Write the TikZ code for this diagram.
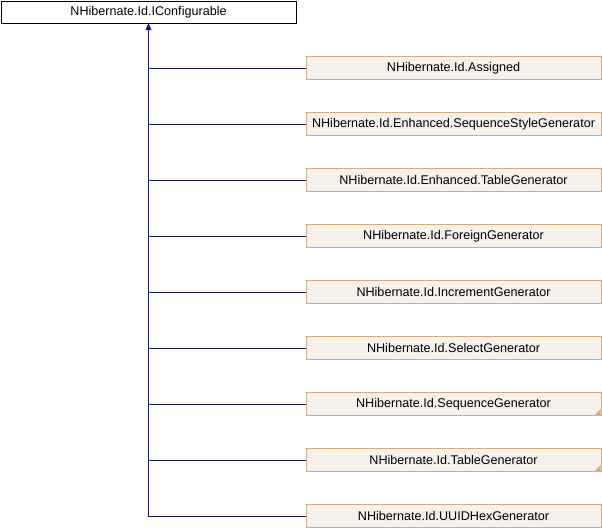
\documentclass[tikz,border=0pt]{standalone}
\usepackage{fontspec}
\setmainfont{Liberation Sans}
\usetikzlibrary{arrows.meta,positioning,calc}
\definecolor{edgeblue}{HTML}{191970}
\definecolor{boxfill}{HTML}{F6F1EA}
\definecolor{boxline}{HTML}{D5AC82}

\begin{document}
\begin{tikzpicture}[x=1pt, y=-1pt, font=\fontsize{12.6}{14}\selectfont,
 base/.style={draw=black, fill=white, minimum width=295pt, minimum height=22pt, inner sep=0pt},
 derived/.style={draw=boxline, fill=boxfill, minimum width=295pt, minimum height=23pt, inner sep=0pt},
 link/.style={draw=edgeblue, semithick},
 fold/.style={fill=boxline, draw=none}]
\useasboundingbox (0, 0) rectangle (602, 528);
\node[base] (conf) at (148.5, 12) {NHibernate.Id.IConfigurable};
\node[derived] (assigned) at (453.5, 68) {NHibernate.Id.Assigned};
\node[derived] (seqstyle) at (453.5, 124) {NHibernate.Id.Enhanced.SequenceStyleGenerator};
\node[derived] (enhtable) at (453.5, 180) {NHibernate.Id.Enhanced.TableGenerator};
\node[derived] (foreign) at (453.5, 236) {NHibernate.Id.ForeignGenerator};
\node[derived] (increment) at (453.5, 292) {NHibernate.Id.IncrementGenerator};
\node[derived] (select) at (453.5, 348) {NHibernate.Id.SelectGenerator};
\node[derived] (sequence) at (453.5, 404) {NHibernate.Id.SequenceGenerator};
\node[derived] (table) at (453.5, 460) {NHibernate.Id.TableGenerator};
\node[derived] (uuidhex) at (453.5, 516) {NHibernate.Id.UUIDHexGenerator};
% markers for classes that have further subclasses
\fill[fold] ($(sequence.south east)+(-0.5,-0.5)$) -- ++(0,-6) -- ++(-6,6) -- cycle;
\fill[fold] ($(table.south east)+(-0.5,-0.5)$) -- ++(0,-6) -- ++(-6,6) -- cycle;
% inheritance
\draw[link, -{Triangle[length=7pt, width=6pt]}] (uuidhex.west) -| (conf.south);
\draw[link] (assigned.west) -| (conf.south);
\draw[link] (seqstyle.west) -| (conf.south);
\draw[link] (enhtable.west) -| (conf.south);
\draw[link] (foreign.west) -| (conf.south);
\draw[link] (increment.west) -| (conf.south);
\draw[link] (select.west) -| (conf.south);
\draw[link] (sequence.west) -| (conf.south);
\draw[link] (table.west) -| (conf.south);
\end{tikzpicture}
\end{document}
